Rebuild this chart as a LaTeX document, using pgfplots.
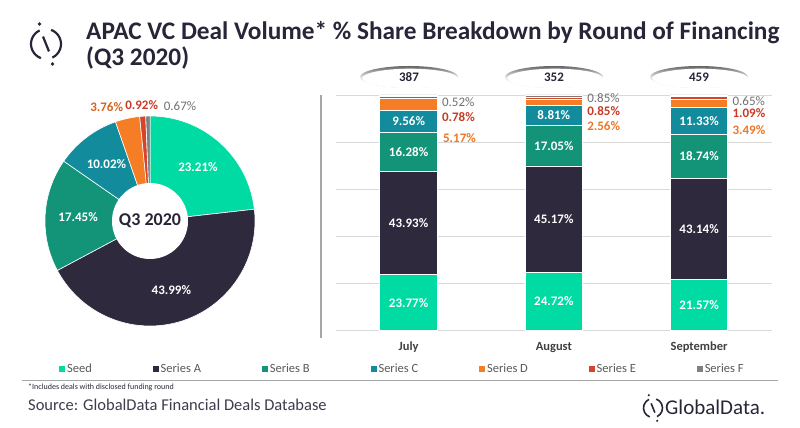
\documentclass[border=0pt]{standalone}
\usepackage{fontspec}
\setmainfont{Carlito}
\usepackage{pgfplots}
\pgfplotsset{compat=1.18}
\definecolor{seed}{RGB}{0,219,164}
\definecolor{serA}{RGB}{46,41,61}
\definecolor{serB}{RGB}{19,148,120}
\definecolor{serC}{RGB}{18,140,156}
\definecolor{serD}{RGB}{244,125,38}
\definecolor{serE}{RGB}{214,69,43}
\definecolor{serF}{RGB}{128,128,128}
\definecolor{labD}{RGB}{238,118,36}
\definecolor{labDd}{RGB}{214,98,28}
\definecolor{labE}{RGB}{200,58,38}
\definecolor{labF}{RGB}{112,112,112}
\definecolor{navy}{RGB}{40,37,56}
\definecolor{gridgray}{RGB}{217,217,217}
\definecolor{monthgray}{RGB}{64,64,64}
\definecolor{leggray}{RGB}{89,89,89}
\newcommand\fs[1]{\fontsize{#1}{#1}\selectfont}
\def\cum{0}
\newcommand\slice[3]{%
 \pgfmathsetmacro\sa{90-3.6*\cum}%
 \pgfmathsetmacro\newcum{\cum+#1}%
 \pgfmathsetmacro\ea{90-3.6*\newcum}%
 \pgfmathsetmacro\ma{(\sa+\ea)/2}%
 \edef\tmp{\noexpand\fill[#2, draw=white, line width=0.6pt] (axis cs:0,0) -- (axis cs:{105*cos(\sa)},{105*sin(\sa)}) arc[start angle=\sa, end angle=\ea, radius=105pt] -- cycle;}\tmp
 \ifnum#3=1
  \edef\tmp{\noexpand\node[text=white, font=\noexpand\bfseries\noexpand\fs{13}] at (axis cs:{72*cos(\ma)},{72*sin(\ma)}) {#1\noexpand\%};}\tmp
 \fi
 \xdef\cum{\newcum}}
\begin{document}
\begin{tikzpicture}[x=1pt,y=1pt]
\useasboundingbox (0,0) rectangle (800,428);
% logo icon
\begin{scope}[shift={(46,384)}, line width=2.2pt]
 \draw[navy] (115:15) arc[start angle=115, end angle=250, radius=15];
 \draw[navy] (-65:15) arc[start angle=-65, end angle=70, radius=15];
 \draw[navy] (112:8) -- (-68:8);
 \fill[navy] (108:21) circle (1.8);
 \fill[navy] (-72:21) circle (1.8);
\end{scope}
% title
\node[anchor=base west, inner sep=0, text=navy, font=\bfseries\fs{25.3}] at (86,388.7) {APAC VC Deal Volume* \% Share Breakdown by Round of Financing};
\node[anchor=base west, inner sep=0, text=navy, font=\bfseries\fs{25.3}] at (86,362.5) {(Q3 2020)};
% bubbles
\foreach \cx/\n in {409/387,554/352,699/459}{
 \shade[top color=black!60, bottom color=black!15, middle color=black!10] (\cx,351) ellipse (49 and 11);
 \fill[white] (\cx+1,349.6) ellipse (47.8 and 9.7);
 \node[text=navy, font=\bfseries\fs{13}] at (\cx,350.5) {\n};
}
% separator
\draw[black!35, line width=1.4pt] (321,333) -- (321,90);
% donut
\begin{axis}[at={(40pt,97pt)}, anchor=south west, scale only axis, width=220pt, height=220pt,
 xmin=-110, xmax=110, ymin=-110, ymax=110, hide axis, clip=false]
 \addplot[draw=none] coordinates {(0,0)};
 \slice{23.21}{seed}{1}
 \slice{43.99}{serA}{1}
 \slice{17.45}{serB}{1}
 \slice{10.02}{serC}{1}
 \slice{3.76}{serD}{0}
 \slice{0.92}{serE}{0}
 \slice{0.67}{serF}{0}
 \fill[white] (axis cs:0,0) circle[radius=38pt];
 \node[text=navy, font=\bfseries\fs{18}] at (axis cs:0,0) {Q3 2020};
 \node[text=labDd, font=\bfseries\fs{13}] at (axis cs:-43.3,113.5) {3.76\%};
 \node[text=labE, font=\bfseries\fs{13}] at (axis cs:-8.3,116) {0.92\%};
 \node[text=labF, font=\fs{13}] at (axis cs:30,115) {0.67\%};
\end{axis}
% bars
\begin{axis}[at={(336pt,97.3pt)}, anchor=south west, scale only axis, width=435.7pt, height=235.7pt,
 xmin=-0.5, xmax=2.5, ymin=0, ymax=100, clip=false,
 ybar stacked, bar width=57.7pt,
 axis line style={draw=none}, tick style={draw=none},
 ytick={0,20,40,60,80,100}, yticklabels={}, ymajorgrids, grid style={draw=gridgray, line width=0.8pt},
 xtick={0,1,2}, xticklabels={July,August,September},
 xticklabel style={font=\bfseries\fs{12.5}, text=monthgray, anchor=base, yshift=-20pt},
 every axis plot/.append style={draw=white, line width=0.9pt},
 legend columns=7,
 legend style={at={(axis description cs:-0.636,-0.1625)}, anchor=west, draw=none, fill=none, inner sep=0pt,
   font=\fs{12.5}, text=leggray, /tikz/every even column/.append style={column sep=58.8pt}},
 legend image code/.code={\fill[#1, draw=none] (0pt,-3pt) rectangle (6pt,3pt);},
]
\addplot[fill=seed] coordinates {(0,23.77) (1,24.72) (2,21.57)};
\addplot[fill=serA] coordinates {(0,43.93) (1,45.17) (2,43.14)};
\addplot[fill=serB] coordinates {(0,16.28) (1,17.05) (2,18.74)};
\addplot[fill=serC] coordinates {(0,9.56) (1,8.81) (2,11.33)};
\addplot[fill=serD] coordinates {(0,5.17) (1,2.56) (2,3.49)};
\addplot[fill=serE] coordinates {(0,0.78) (1,0.85) (2,1.09)};
\addplot[fill=serF] coordinates {(0,0.52) (1,0.85) (2,0.65)};
\legend{Seed,Series A,Series B,Series C,Series D,Series E,Series F}
\coordinate (a1) at (axis cs:0,11.885);
\coordinate (a2) at (axis cs:0,45.735);
\coordinate (a3) at (axis cs:0,75.84);
\coordinate (a4) at (axis cs:0,88.76);
\coordinate (b1) at (axis cs:1,12.36);
\coordinate (b2) at (axis cs:1,47.305);
\coordinate (b3) at (axis cs:1,78.415);
\coordinate (b4) at (axis cs:1,91.345);
\coordinate (c1) at (axis cs:2,10.785);
\coordinate (c2) at (axis cs:2,43.14);
\coordinate (c3) at (axis cs:2,74.08);
\coordinate (c4) at (axis cs:2,89.115);
\coordinate (a5) at (axis cs:0.229,97.16);
\coordinate (a6) at (axis cs:0.229,90.8);
\coordinate (a7) at (axis cs:0.236,81.9);
\coordinate (b5) at (axis cs:1.229,98.6);
\coordinate (b6) at (axis cs:1.229,93.2);
\coordinate (b7) at (axis cs:1.229,87.0);
\coordinate (c5) at (axis cs:2.229,97.2);
\coordinate (c6) at (axis cs:2.229,92.2);
\coordinate (c7) at (axis cs:2.229,85.2);
\end{axis}
\tikzset{bl/.style={text=white, font=\bfseries\fs{13}}}
\node[bl] at (a1) {23.77\%};
\node[bl] at (a2) {43.93\%};
\node[bl] at (a3) {16.28\%};
\node[bl] at (a4) {9.56\%};
\node[bl] at (b1) {24.72\%};
\node[bl] at (b2) {45.17\%};
\node[bl] at (b3) {17.05\%};
\node[bl] at (b4) {8.81\%};
\node[bl] at (c1) {21.57\%};
\node[bl] at (c2) {43.14\%};
\node[bl] at (c3) {18.74\%};
\node[bl] at (c4) {11.33\%};
\tikzset{ol/.style={anchor=west, inner sep=0pt, font=\fs{13}}}
\node[ol, text=labF] at (a5) {0.52\%};
\node[ol, text=labE, font=\bfseries\fs{13}] at (a6) {0.78\%};
\node[ol, text=labD, font=\bfseries\fs{13}] at (a7) {5.17\%};
\node[ol, text=labF] at (b5) {0.85\%};
\node[ol, text=labE, font=\bfseries\fs{13}] at (b6) {0.85\%};
\node[ol, text=labD, font=\bfseries\fs{13}] at (b7) {2.56\%};
\node[ol, text=labF] at (c5) {0.65\%};
\node[ol, text=labE, font=\bfseries\fs{13}] at (c6) {1.09\%};
\node[ol, text=labD, font=\bfseries\fs{13}] at (c7) {3.49\%};
% footer
\draw[black!35, line width=0.8pt] (22,48) -- (778,48);
\node[anchor=west, inner sep=0, text=navy, font=\fs{8}] at (28,41) {*Includes deals with disclosed funding round};
\node[anchor=west, inner sep=0, text=navy!90, font=\fs{16.5}] at (28,23) {Source: GlobalData Financial Deals Database};
\begin{scope}[shift={(653,20)}, line width=1.6pt]
 \draw[navy] (115:9.5) arc[start angle=115, end angle=250, radius=9.5];
 \draw[navy] (-65:9.5) arc[start angle=-65, end angle=70, radius=9.5];
 \draw[navy] (112:5) -- (-68:5);
 \fill[navy] (108:13.5) circle (1.2);
 \fill[navy] (-72:13.5) circle (1.2);
\end{scope}
\node[anchor=west, inner sep=0, text=navy, font=\fs{21}] at (665,21) {GlobalData.};
\end{tikzpicture}
\end{document}
